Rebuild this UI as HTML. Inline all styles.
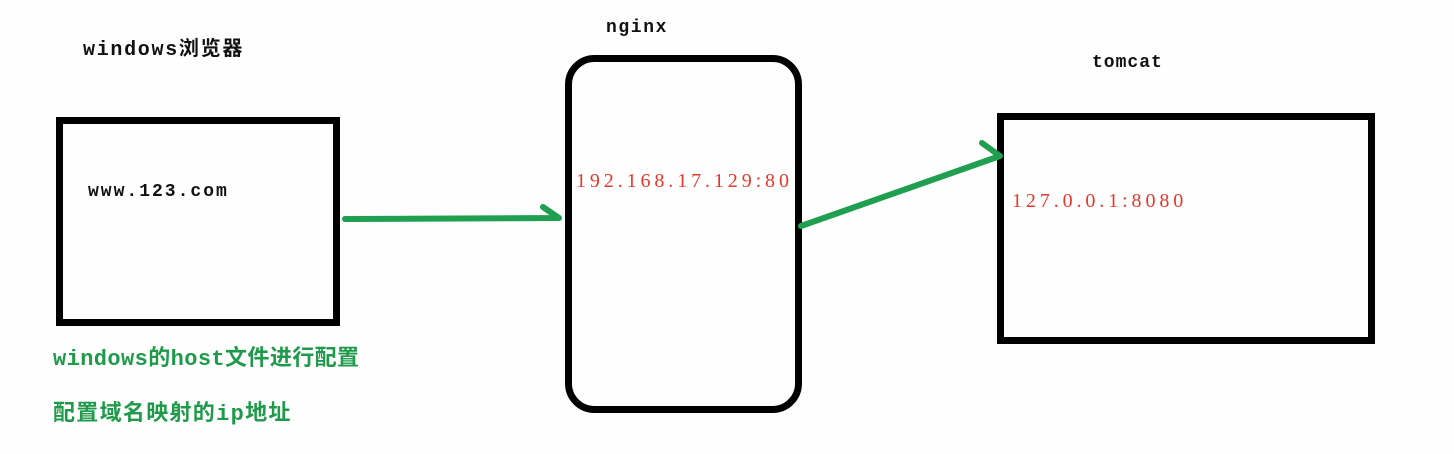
<!DOCTYPE html>
<html><head><meta charset="utf-8"><style>
html,body{margin:0;padding:0;background:#fdfefd;}
body{width:1454px;height:454px;position:relative;overflow:hidden;}
.t{position:absolute;white-space:nowrap;line-height:1;}
.b{font-family:"Liberation Mono","Noto Sans CJK SC",monospace;font-weight:bold;color:#111;}
.r{font-family:"Liberation Serif","Noto Serif CJK SC",serif;color:#e8382c;font-size:20px;letter-spacing:3.9px;}
.g{font-family:"Liberation Mono","Noto Sans CJK SC",monospace;font-weight:bold;color:#1f9a4a;font-size:22px;}
</style></head><body>
<svg width="1454" height="454" style="position:absolute;left:0;top:0">
<rect x="59.5" y="120.5" width="277" height="202" fill="none" stroke="#000" stroke-width="7"/>
<rect x="568.5" y="58.5" width="230" height="351" rx="26" fill="none" stroke="#000" stroke-width="7"/>
<rect x="1000.5" y="116.5" width="371" height="224" fill="none" stroke="#000" stroke-width="7"/>
<g stroke="#1f9f4f" stroke-width="6" stroke-linecap="round" stroke-linejoin="round" fill="none">
<polyline points="345,219 559,218 543,207"/>
<polyline points="801,226 1000,156 982,143"/>
</g>
</svg>
<div class="t b" style="left:83px;top:41px;font-size:20px;letter-spacing:1.7px;">windows浏览器</div>
<div class="t b" style="left:606px;top:19px;font-size:18px;letter-spacing:1.6px;">nginx</div>
<div class="t b" style="left:1092px;top:54px;font-size:18px;letter-spacing:1px;">tomcat</div>
<div class="t b" style="left:88px;top:183px;font-size:18px;letter-spacing:2px;">www.123.com</div>
<div class="t r" style="left:576px;top:171px;">192.168.17.129:80</div>
<div class="t r" style="left:1012px;top:191px;">127.0.0.1:8080</div>
<div class="t g" style="left:53px;top:349px;letter-spacing:0.4px;">windows的host文件进行配置</div>
<div class="t g" style="left:53px;top:404px;letter-spacing:1.3px;">配置域名映射的ip地址</div>
</body></html>
